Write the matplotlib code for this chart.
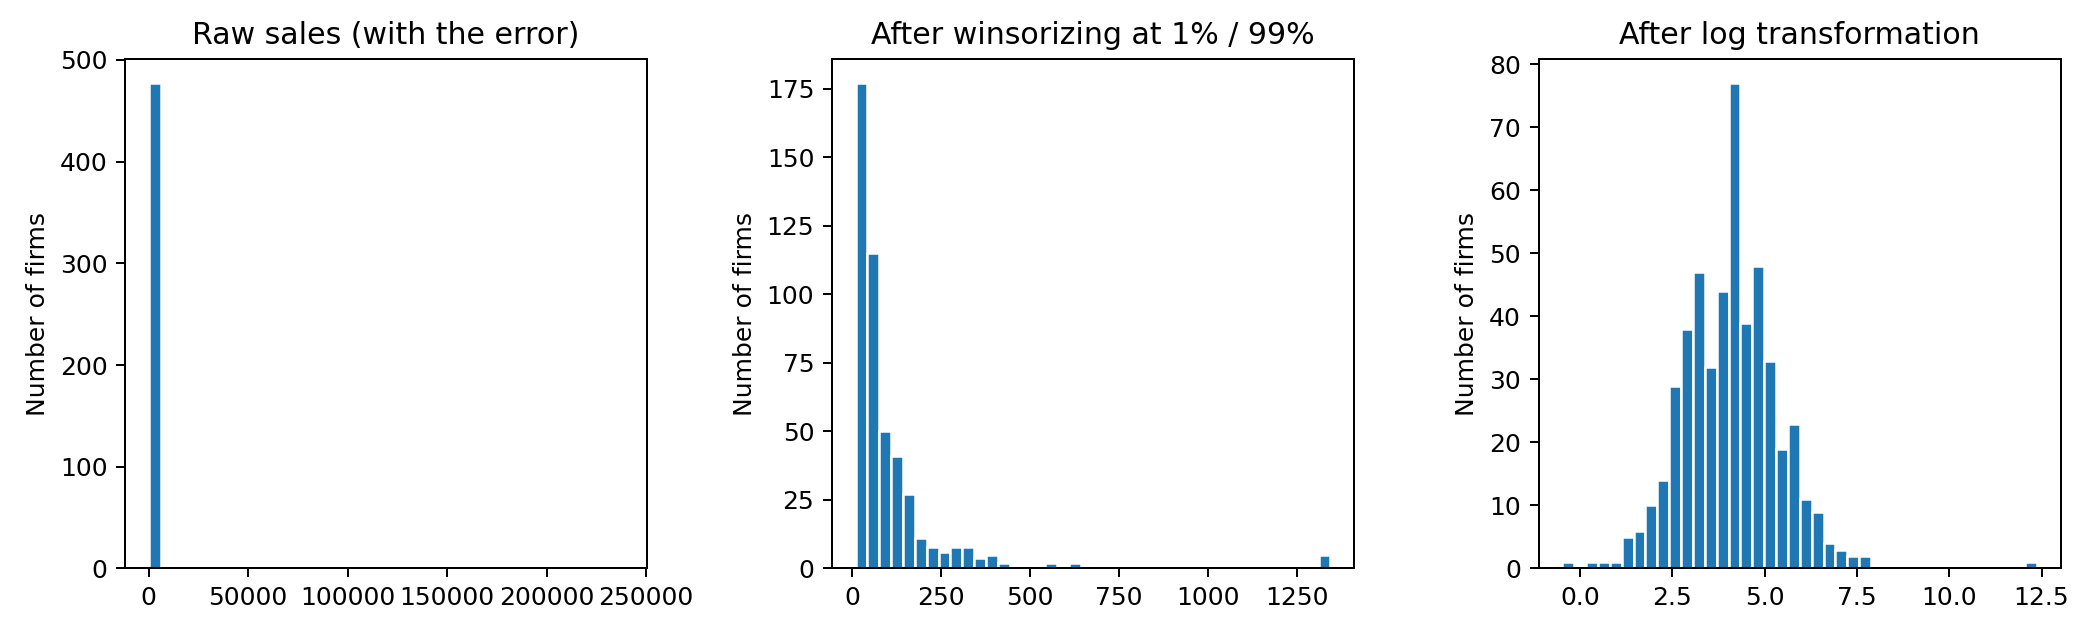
import numpy as np
import matplotlib
matplotlib.use("Agg")
import matplotlib.pyplot as plt

# histogram counts (40 bins each)
raw_lo, raw_hi = 0.62, 238700
raw_counts = [477] + [0] * 38 + [1]

wins_lo, wins_hi = 10.3, 1344
wins_counts = [177, 115, 50, 41, 27, 11, 8, 6, 8, 8,
               4, 5, 2, 0, 1, 0, 2, 0, 2, 0,
               1, 0, 1, 0, 0, 0, 0, 0, 0, 0,
               0, 0, 0, 0, 0, 0, 0, 0, 0, 5]

log_lo, log_hi = -0.478, 12.383
log_counts = [1, 0, 1, 1, 1, 5, 6, 10, 14, 29,
              38, 47, 32, 44, 77, 39, 48, 33, 19, 23,
              11, 9, 4, 3, 2, 2, 0, 0, 0, 0,
              0, 0, 0, 0, 0, 0, 0, 0, 0, 1]

panels = [
    ("Raw sales (with the error)", raw_lo, raw_hi, raw_counts),
    ("After winsorizing at 1% / 99%", wins_lo, wins_hi, wins_counts),
    ("After log transformation", log_lo, log_hi, log_counts),
]

dpi = 180
fig, axes = plt.subplots(1, 3, figsize=(2090 / dpi, 633 / dpi), dpi=dpi)
fig.subplots_adjust(left=0.0598, right=0.9861, top=0.9068, bottom=0.1019, wspace=0.353)

for ax, (title, lo, hi, counts) in zip(axes, panels):
    edges = np.linspace(lo, hi, len(counts) + 1)
    ax.hist(edges[:-1], bins=edges, weights=counts, edgecolor="white")
    ax.set_title(title)
    ax.set_ylabel("Number of firms")

fig.savefig("out.png", dpi=dpi)
